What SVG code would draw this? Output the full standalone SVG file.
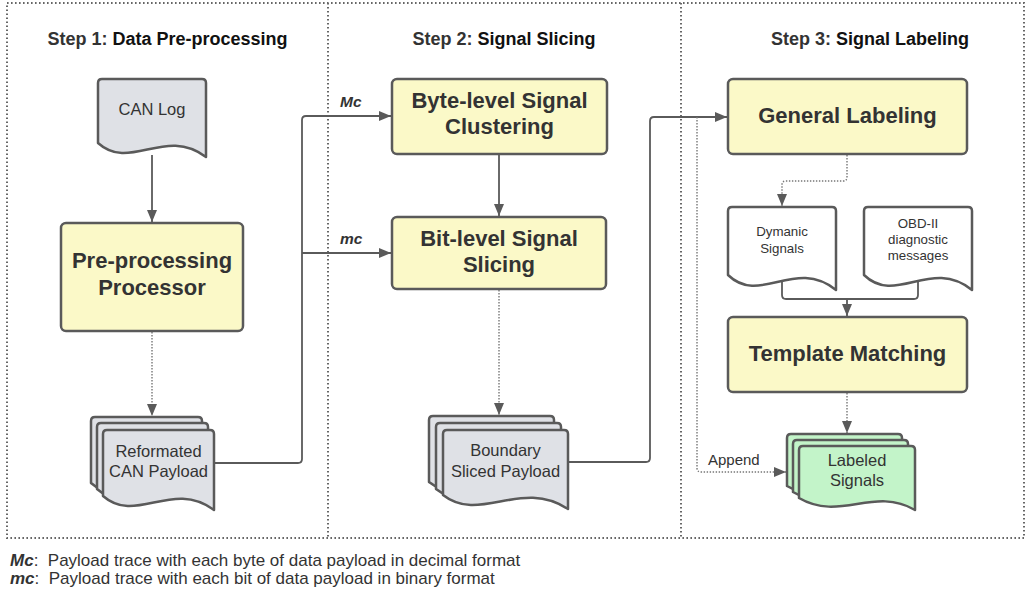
<svg xmlns="http://www.w3.org/2000/svg" width="1026" height="597" viewBox="0 0 1026 597">
<style>
text{font-family:"Liberation Sans",Arial,sans-serif;fill:#333}
.title{font-size:18px;font-weight:bold}
.title .k{fill:#111}
.proc{fill:#fbf9c8;stroke:#5a5a5a;stroke-width:2.5}
.ptxt{font-size:22px;font-weight:bold;text-anchor:middle;fill:#333}
.docg{fill:#dfe1e6;stroke:#5a5a5a;stroke-width:2.5;stroke-linejoin:round}
.docw{fill:#fff;stroke:#5a5a5a;stroke-width:2.5;stroke-linejoin:round}
.docgr{fill:#c3f4c9;stroke:#5a5a5a;stroke-width:2.5;stroke-linejoin:round}
.dtxt{font-size:16.5px;text-anchor:middle}
.stxt{font-size:13.3px;text-anchor:middle}
.frame{fill:none;stroke:#666;stroke-width:2;stroke-dasharray:1.6 2.4}
.solid{fill:none;stroke:#5a5a5a;stroke-width:1.8}
.dot{fill:none;stroke:#777;stroke-width:1.4;stroke-dasharray:1.4 1.6}
.lbl{font-size:15.5px;font-weight:bold;font-style:italic}
.note{font-size:15px}
.legend{font-size:17px}
</style>
<defs>
<marker id="ah" markerUnits="userSpaceOnUse" markerWidth="13" markerHeight="11" refX="12" refY="5" orient="auto">
<path d="M0,0 L12,5 L0,10 z" fill="#5a5a5a"/>
</marker>
</defs>

<g id="panels">
<rect class="frame" x="7" y="3" width="1017" height="535"/>
<line class="frame" x1="328" y1="3" x2="328" y2="538"/>
<line class="frame" x1="681" y1="3" x2="681" y2="538"/>
</g>

<g id="titles">
<text class="title" x="167.5" y="45" text-anchor="middle">Step 1:<tspan class="k"> Data Pre-processing</tspan></text>
<text class="title" x="504" y="45" text-anchor="middle">Step 2:<tspan class="k"> Signal Slicing</tspan></text>
<text class="title" x="870" y="45" text-anchor="middle">Step 3:<tspan class="k"> Signal Labeling</tspan></text>
</g>

<g id="connectors">
<path class="solid" d="M152,155 V222" marker-end="url(#ah)"/>
<path class="dot" d="M152,332 V416" marker-end="url(#ah)"/>
<path class="solid" d="M214,463 H298 Q302,463 302,459 V120 Q302,116 306,116 H391" marker-end="url(#ah)"/>
<path class="solid" d="M302,253 H391" marker-end="url(#ah)"/>
<path class="solid" d="M499,155 V216" marker-end="url(#ah)"/>
<path class="dot" d="M499,290 V415" marker-end="url(#ah)"/>
<path class="solid" d="M568,462 H646 Q650,462 650,458 V121 Q650,117 654,117 H727" marker-end="url(#ah)"/>
<path class="dot" d="M697,117 V468 Q697,472 701,472 H786" marker-end="url(#ah)"/>
<path class="dot" d="M847,155 V177 Q847,181 843,181 H786 Q782,181 782,185 V206" marker-end="url(#ah)"/>
<path class="solid" d="M782,282 V295 Q782,299 786,299 H914 Q918,299 918,295 V282"/>
<path class="solid" d="M847,299 V316" marker-end="url(#ah)"/>
<path class="dot" d="M847,393 V433" marker-end="url(#ah)"/>
<text class="lbl" x="340" y="107">Mc</text>
<text class="lbl" x="340" y="244">mc</text>
<text class="note" x="708" y="465">Append</text>
</g>

<g id="can-log">
<path class="docg" d="M98,143 V83 Q98,79 102,79 H202 Q206,79 206,83 V157 C165,126 130,172 98,143 Z"/>
<text class="dtxt" x="152" y="115">CAN Log</text>
</g>

<g id="preprocessor">
<rect class="proc" x="61" y="223" width="182" height="108" rx="5"/>
<text class="ptxt" x="152" y="268">Pre-processing</text>
<text class="ptxt" x="152" y="295">Processor</text>
</g>

<g id="reformated-payload">
<path class="docg" d="M91,483 V421 Q91,417 95,417 H198 Q202,417 202,421 V497 C160,466 124,512 91,483 Z"/>
<path class="docg" d="M97,489 V427 Q97,423 101,423 H204 Q208,423 208,427 V503 C166,472 130,518 97,489 Z"/>
<path class="docg" d="M103,496 V434 Q103,430 107,430 H210 Q214,430 214,434 V510 C172,479 136,525 103,496 Z"/>
<text class="dtxt" x="158.5" y="457">Reformated</text>
<text class="dtxt" x="158.5" y="477">CAN Payload</text>
</g>

<g id="byte-clustering">
<rect class="proc" x="392" y="79" width="215" height="75" rx="5"/>
<text class="ptxt" x="499.5" y="108">Byte-level Signal</text>
<text class="ptxt" x="499.5" y="134">Clustering</text>
</g>

<g id="bit-slicing">
<rect class="proc" x="392" y="217" width="214" height="72" rx="5"/>
<text class="ptxt" x="499" y="246">Bit-level Signal</text>
<text class="ptxt" x="499" y="272">Slicing</text>
</g>

<g id="boundary-payload">
<path class="docg" d="M429,482 V420 Q429,416 433,416 H550 Q554,416 554,420 V496 C507,465 466,511 429,482 Z"/>
<path class="docg" d="M436,489 V427 Q436,423 440,423 H557 Q561,423 561,427 V503 C514,472 473,518 436,489 Z"/>
<path class="docg" d="M443,495 V434 Q443,430 447,430 H564 Q568,430 568,434 V509 C521,478 480,524 443,495 Z"/>
<text class="dtxt" x="505.5" y="456">Boundary</text>
<text class="dtxt" x="505.5" y="477">Sliced Payload</text>
</g>

<g id="general-labeling">
<rect class="proc" x="728" y="79" width="239" height="75" rx="5"/>
<text class="ptxt" x="847.5" y="123">General Labeling</text>
</g>

<g id="dynamic-signals">
<path class="docw" d="M728,275 V211 Q728,207 732,207 H832 Q836,207 836,211 V290 C795,257 760,306 728,275 Z"/>
<text class="stxt" x="782" y="236">Dymanic</text>
<text class="stxt" x="782" y="253">Signals</text>
</g>

<g id="obd-messages">
<path class="docw" d="M864,275 V211 Q864,207 868,207 H968 Q972,207 972,211 V290 C931,257 896,306 864,275 Z"/>
<text class="stxt" x="918" y="228">OBD-II</text>
<text class="stxt" x="918" y="244">diagnostic</text>
<text class="stxt" x="918" y="260">messages</text>
</g>

<g id="template-matching">
<rect class="proc" x="728" y="317" width="239" height="75" rx="5"/>
<text class="ptxt" x="847.5" y="361">Template Matching</text>
</g>

<g id="labeled-signals">
<path class="docgr" d="M787,486 V438 Q787,434 791,434 H898 Q902,434 902,438 V498 C862,474 828,510 787,486 Z"/>
<path class="docgr" d="M793,492 V444 Q793,440 797,440 H904 Q908,440 908,444 V504 C868,480 834,516 793,492 Z"/>
<path class="docgr" d="M799,498 V450 Q799,446 803,446 H911 Q915,446 915,450 V510 C874,486 840,522 799,498 Z"/>
<text class="dtxt" x="857" y="466">Labeled</text>
<text class="dtxt" x="857" y="486">Signals</text>
</g>

<g id="legend">
<text class="legend" x="10" y="566" xml:space="preserve"><tspan font-weight="bold" font-style="italic">Mc</tspan>:  Payload trace with each byte of data payload in decimal format</text>
<text class="legend" x="10" y="584" xml:space="preserve"><tspan font-weight="bold" font-style="italic">mc</tspan>:  Payload trace with each bit of data payload in binary format</text>
</g>
</svg>
